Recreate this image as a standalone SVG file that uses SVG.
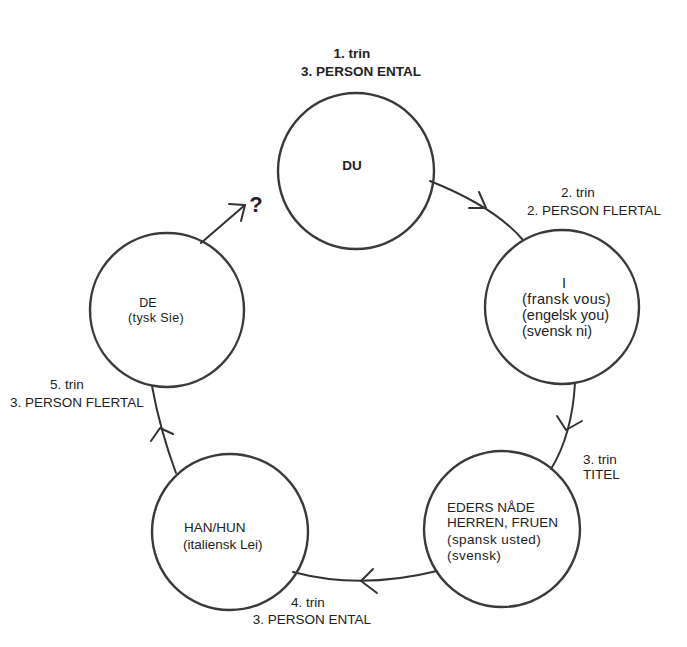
<svg xmlns="http://www.w3.org/2000/svg" width="687" height="647" viewBox="0 0 687 647">
<style>
.c{fill:none;stroke:#3a3a3a;stroke-width:2.4}
.l{fill:none;stroke:#333;stroke-width:2;stroke-linecap:round;stroke-linejoin:round}
text{font-family:"Liberation Sans",Arial,sans-serif;fill:#222}
.lab{font-size:13.5px}
.in{font-size:13.5px}
.big{font-size:14.5px}
.sm{font-size:12.5px}
.ls{letter-spacing:0.4px}
.b{font-weight:bold}
.m{text-anchor:middle}
</style>
<rect width="687" height="647" fill="#fff"/>
<g id="connectors">
<path class="l" d="M430,181 Q495,207 523,240"/>
<path class="l" d="M479,192 L486,208 L469,208"/>
<path class="l" d="M575,383 Q572,435 551,469"/>
<path class="l" d="M557,416 L566,430 L582,421"/>
<path class="l" d="M437,571 Q360,590 293,572"/>
<path class="l" d="M373,569 L361,581 L377,593"/>
<path class="l" d="M151,441 L160,428 L173,434"/>
<path class="l" d="M176,473 Q160,430 152,386"/>
<path class="l" d="M201,243 L245,205"/>
<path class="l" d="M229,204 L245,205 L241,221"/>
</g>
<g id="label-1">
<text class="lab b m" x="352" y="58">1. trin</text>
<text class="lab b m" x="361" y="76">3. PERSON ENTAL</text>
</g>
<g id="node-du">
<circle class="c" cx="356" cy="171" r="78"/>
<text class="in b m" x="352" y="170">DU</text>
</g>
<g id="label-2">
<text class="lab m" x="578" y="197">2. trin</text>
<text class="lab m" x="594" y="215">2. PERSON FLERTAL</text>
</g>
<g id="node-i">
<circle class="c" cx="562" cy="307" r="77"/>
<text class="big m" x="564" y="288">I</text>
<text class="big ls" x="522" y="304">(fransk vous)</text>
<text class="big" x="522" y="320">(engelsk you)</text>
<text class="big" x="522" y="336">(svensk ni)</text>
</g>
<g id="label-3">
<text class="lab" x="583" y="464">3. trin</text>
<text class="lab" x="583" y="479">TITEL</text>
</g>
<g id="node-eders">
<circle class="c" cx="502" cy="529" r="78"/>
<text class="in" x="447" y="512">EDERS NÅDE</text>
<text class="in" x="447" y="527">HERREN, FRUEN</text>
<text class="in ls" x="447" y="544">(spansk usted)</text>
<text class="in ls" x="447" y="560">(svensk)</text>
</g>
<g id="label-4">
<text class="lab m" x="308" y="607">4. trin</text>
<text class="lab m" x="312" y="624">3. PERSON ENTAL</text>
</g>
<g id="node-han">
<circle class="c" cx="230" cy="532" r="78"/>
<text class="in" x="184" y="532">HAN/HUN</text>
<text class="in" x="183" y="549">(italiensk Lei)</text>
</g>
<g id="label-5">
<text class="lab m" x="67" y="389">5. trin</text>
<text class="lab" x="10" y="407">3. PERSON FLERTAL</text>
</g>
<g id="node-de">
<circle class="c" cx="167" cy="310" r="77"/>
<text class="sm m" x="148" y="307">DE</text>
<text class="sm ls" x="128" y="322">(tysk Sie)</text>
</g>
<g id="question">
<text class="b m" x="256" y="212" font-size="22">?</text>
</g>
</svg>
